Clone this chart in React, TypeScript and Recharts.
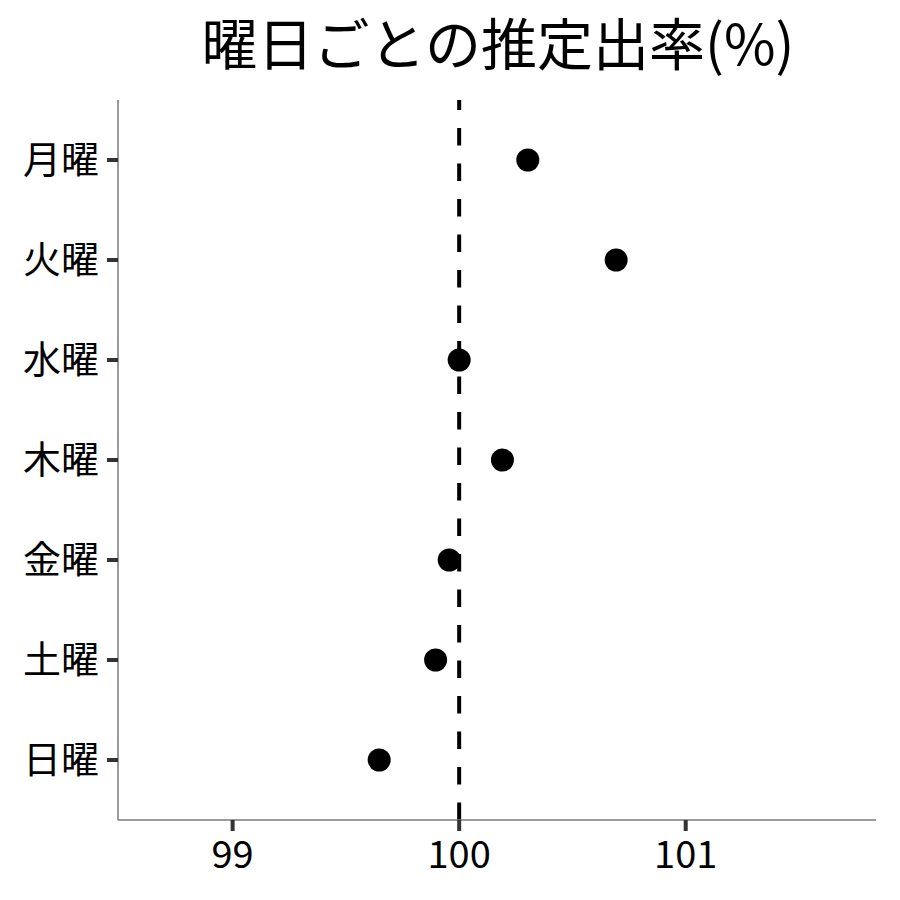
import React from 'react';
import { ScatterChart, Scatter, XAxis, YAxis, ReferenceLine } from 'recharts';

const days = ['月曜', '火曜', '水曜', '木曜', '金曜', '土曜', '日曜'];
const rates = [100.303, 100.693, 100.0, 100.191, 99.956, 99.896, 99.647];
const xTicks = [99, 100, 101];
const xDomain = [98.494, 101.84];
const yDomain = [0.4, 7.6];

const FONT = '"Noto Sans CJK JP", "Noto Sans", sans-serif';
const TICK_LEN = 11;

// tick text plus a heavier tick mark than the default tickLine gives
const YTick = (props: any) => {
  const { x, y, payload } = props;
  return (
    <g>
      <line x1={x + 8} x2={x + 8 + TICK_LEN} y1={y} y2={y} stroke="#333" strokeWidth={4} />
      <text x={x} y={y} dy="0.355em" textAnchor="end" fontSize={38} fontFamily={FONT} fill="#000">
        {days[payload.value - 1]}
      </text>
    </g>
  );
};

const XTick = (props: any) => {
  const { x, y, payload } = props;
  return (
    <g>
      <line x1={x} x2={x} y1={y - 10 - TICK_LEN} y2={y - 10} stroke="#333" strokeWidth={4} />
      <text x={x} y={y} dy="0.71em" textAnchor="middle" fontSize={38} fontFamily={FONT} fill="#000">
        {payload.value}
      </text>
    </g>
  );
};

const App: React.FC = () => {
  // y is the position of the day (1 = top)
  const chartData = days.map((day, i) => ({ day, x: rates[i], y: i + 1 }));

  const dot = (props: any) => (
    <circle cx={props.cx} cy={props.cy} r={11.5} fill="#000" />
  );

  return (
    <div style={{ position: 'absolute', left: 0, top: 0, width: 900, height: 900, background: '#fff', fontFamily: FONT }}>
      <ScatterChart
        width={900}
        height={900}
        margin={{ top: 100, right: 24, bottom: 0, left: 0 }}
        style={{ fontFamily: FONT }}
      >
        <XAxis
          type="number"
          dataKey="x"
          domain={xDomain}
          ticks={xTicks}
          allowDataOverflow
          height={80}
          tickSize={TICK_LEN}
          tickMargin={10}
          axisLine={{ stroke: '#7a7a7a', strokeWidth: 1.5 }}
          tickLine={false}
          tick={<XTick />}
        />
        <YAxis
          type="number"
          dataKey="y"
          domain={yDomain}
          ticks={[1, 2, 3, 4, 5, 6, 7]}
          reversed
          allowDataOverflow
          width={118}
          tickSize={TICK_LEN}
          tickMargin={8}
          axisLine={{ stroke: '#7a7a7a', strokeWidth: 1.5 }}
          tickLine={false}
          tick={<YTick />}
        />
        <ReferenceLine
          segment={[{ x: 100, y: yDomain[1] }, { x: 100, y: yDomain[0] }]}
          stroke="#000"
          strokeWidth={4}
          strokeDasharray="17.5 18"
        />
        <Scatter data={chartData} shape={dot} isAnimationActive={false} />
      </ScatterChart>
      <svg width={900} height={100} style={{ position: 'absolute', left: 0, top: 0 }}>
        <text x={498} y={65} textAnchor="middle" fontSize={56} fontFamily={FONT} fill="#000">
          曜日ごとの推定出率(%)
        </text>
      </svg>
    </div>
  );
};

export default App;
